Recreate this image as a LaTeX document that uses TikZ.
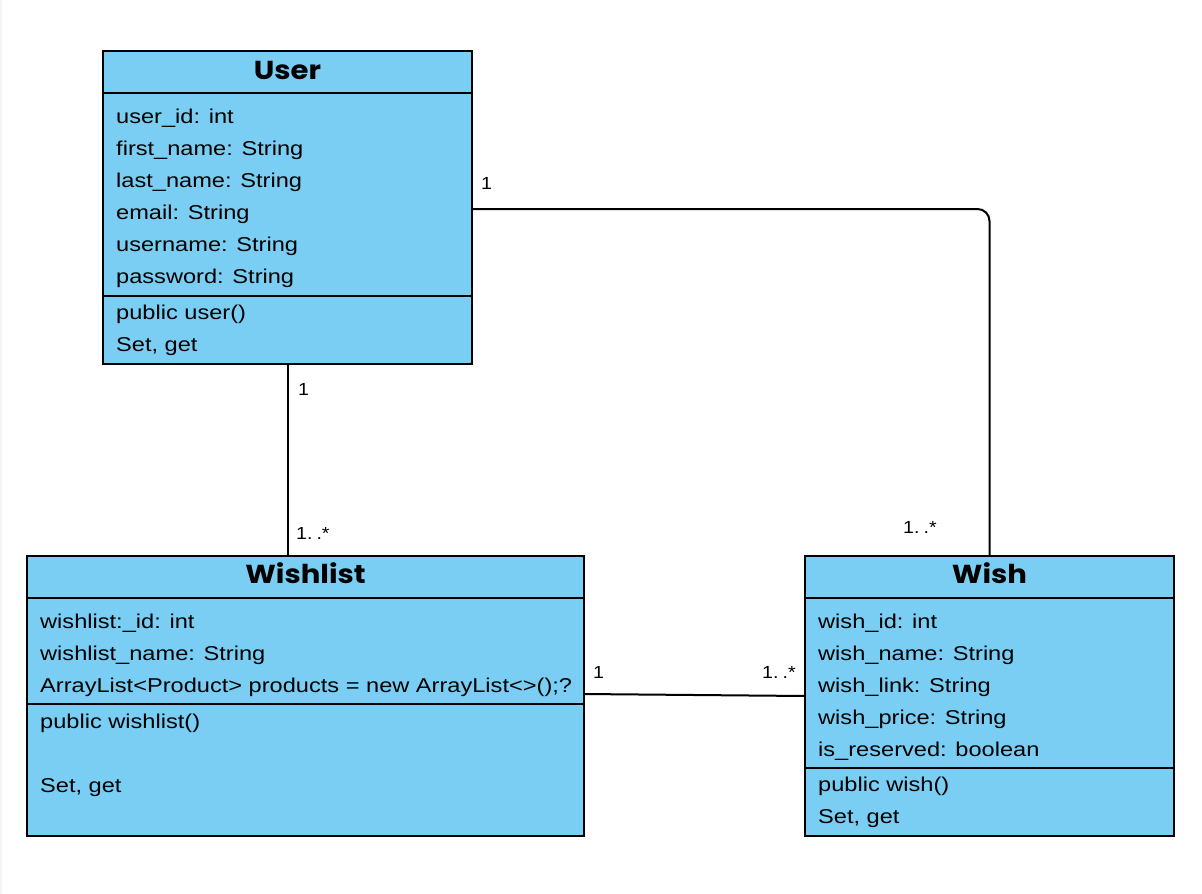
\documentclass[tikz,border=0pt]{standalone}
\usepackage{fontspec}
\setmainfont{Liberation Sans}
\newfontfamily\attrfont{Liberation Sans}[FakeStretch=1.18]
\newfontfamily\multfont{Liberation Sans}[FakeStretch=1.12]
\newfontfamily\titlefont{Poppins}[UprightFont=* Bold,FakeStretch=1.12]
\definecolor{umlfill}{HTML}{7ACEF3}
\begin{document}
\begin{tikzpicture}[x=1pt,y=-1pt,
  classbox/.style={draw=black,line width=2pt,fill=umlfill,anchor=north west,inner sep=0pt,outer sep=0pt},
  divider/.style={line width=2pt},
  attr/.style={anchor=base west,inner sep=0pt,font=\attrfont\fontsize{20}{24}\selectfont},
  ctitle/.style={anchor=base,inner sep=0pt,font=\titlefont\fontsize{26}{30}\selectfont},
  mult/.style={anchor=base west,inner sep=0pt,font=\multfont\fontsize{17.5}{20}\selectfont},
  conn/.style={line width=2pt}]
\useasboundingbox (0,0) rectangle (1202,894);
\fill[white] (0,0) rectangle (1202,894);
\fill[black!4] (0,0) rectangle (2,894);
% User
\node[classbox,minimum width=369pt,minimum height=313pt] (user) at (103,51) {};
\draw[divider] (103,93) -- (472,93);
\draw[divider] (103,296) -- (472,296);
\node[ctitle] (usert) at (287.5,79) {User};
\node[attr] (u1) at (116,123) {user\_id: int};
\node[attr] (u2) at (116,155) {first\_name: String};
\node[attr] (u3) at (116,187) {last\_name: String};
\node[attr] (u4) at (116,219) {email: String};
\node[attr] (u5) at (116,251) {username: String};
\node[attr] (u6) at (116,283) {password: String};
\node[attr] (u7) at (116,319) {public user()};
\node[attr] (u8) at (116,351) {Set, get};
% Wishlist
\node[classbox,minimum width=557pt,minimum height=280pt] (wishlist) at (27,556) {};
\draw[divider] (27,598) -- (584,598);
\draw[divider] (27,704) -- (584,704);
\node[ctitle] (wlt) at (305.5,583) {Wishlist};
\node[attr] (l1) at (40,628) {wishlist:\_id: int};
\node[attr] (l2) at (40,660) {wishlist\_name: String};
\node[attr] (l3) at (40,692) {ArrayList<Product> products = new ArrayList<>();?};
\node[attr] (l4) at (40,728) {public wishlist()};
\node[attr] (l5) at (40,792) {Set, get};
% Wish
\node[classbox,minimum width=369pt,minimum height=280pt] (wish) at (805,556) {};
\draw[divider] (805,598) -- (1174,598);
\draw[divider] (805,768) -- (1174,768);
\node[ctitle] (wt) at (989.5,583) {Wish};
\node[attr] (w1) at (818,628) {wish\_id: int};
\node[attr] (w2) at (818,660) {wish\_name: String};
\node[attr] (w3) at (818,692) {wish\_link: String};
\node[attr] (w4) at (818,724) {wish\_price: String};
\node[attr] (w5) at (818,756) {is\_reserved: boolean};
\node[attr] (w6) at (818,791) {public wish()};
\node[attr] (w7) at (818,823) {Set, get};
% connectors
\draw[conn] (user.south) -- (wishlist.north -| user.south);
\draw[conn,rounded corners=12pt] (user.east |- 0,209) -| (wish.north);
\draw[conn] (wishlist.east |- 0,694) -- (wish.west |- 0,696);
% multiplicities
\node[mult] (m1) at (298,395) {1};
\node[mult] (m2) at (296,539) {1.\kern4pt.*};
\node[mult] (m3) at (481,189) {1};
\node[mult] (m4) at (903,533) {1.\kern4pt.*};
\node[mult] (m5) at (593,678) {1};
\node[mult] (m6) at (762,678) {1.\kern4pt.*};
\end{tikzpicture}
\end{document}
